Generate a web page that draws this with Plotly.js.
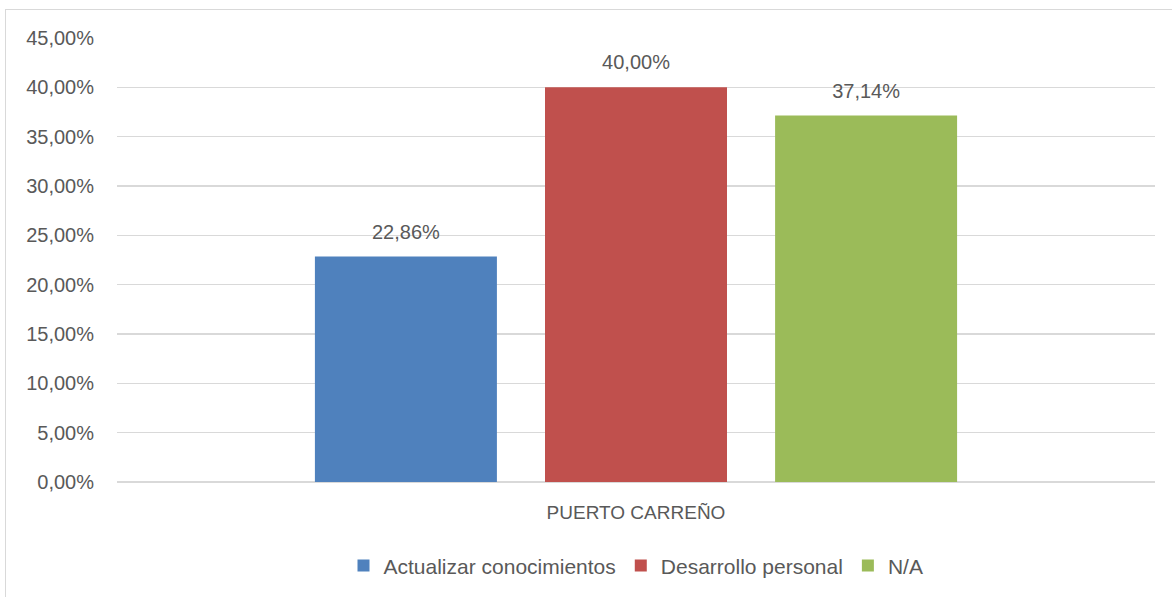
<!DOCTYPE html>
<html>
<head>
<meta charset="utf-8">
<script src="https://cdn.plot.ly/plotly-3.0.1.min.js"></script>
<style>
html,body{margin:0;padding:0;background:#fff;}
#wrap{position:relative;width:1172px;height:597px;}
#chart{position:absolute;left:0;top:0;width:1172px;height:597px;}
#frame{position:absolute;left:5px;top:9px;width:1180px;height:600px;border:1px solid #d9d9d9;pointer-events:none;}
</style>
</head>
<body>
<div id="wrap"><div id="frame"></div><div id="chart"></div></div>
<script>
const categories = ["PUERTO CARREÑO"];
const seriesNames = ["Actualizar conocimientos", "Desarrollo personal", "N/A"];
const actualizar = [0.2286];
const desarrollo = [0.40];
const na = [0.3714];
const seriesValues = [actualizar, desarrollo, na];
const colors = ["#4f81bd", "#c0504d", "#9bbb59"];
const yTickVals = [0, 0.05, 0.10, 0.15, 0.20, 0.25, 0.30, 0.35, 0.40, 0.45];

const FONT = "Liberation Sans, Arial, sans-serif";
const TXT = "#595959";

const traces = [];
seriesValues.forEach((vals, i) => {
  traces.push({
    type: "bar",
    name: seriesNames[i],
    x: categories,
    y: vals,
    offsetgroup: "g" + i,
    marker: {color: colors[i]},
    hoverinfo: "name+y"
  });
});
seriesValues.forEach((vals, i) => {
  traces.push({
    type: "scatter",
    mode: "markers+text",
    x: categories,
    y: vals,
    offsetgroup: "g" + i,
    showlegend: false,
    hoverinfo: "skip",
    marker: {size: 19, opacity: 0, color: colors[i]},
    texttemplate: "%{y:.2%}",
    textposition: "top center",
    textfont: {family: FONT, size: 20, color: TXT},
    cliponaxis: false
  });
});

const layout = {
  width: 1172,
  height: 597,
  margin: {l: 117, r: 17, t: 38, b: 115},
  paper_bgcolor: "rgba(0,0,0,0)",
  plot_bgcolor: "rgba(0,0,0,0)",
  separators: ",.",
  barmode: "group",
  bargap: 0.335,
  bargroupgap: 0.209,
  scattermode: "group",
  scattergap: 0.335,
  showlegend: true,
  font: {family: FONT, color: TXT},
  xaxis: {
    type: "category",
    automargin: false,
    showgrid: false,
    showline: false,
    zeroline: false,
    ticks: "",
    tickfont: {family: FONT, size: 19, color: TXT},
    ticklabelstandoff: 17
  },
  yaxis: {
    range: [0, 0.45],
    automargin: false,
    tickvals: yTickVals,
    tickformat: ".2%",
    showgrid: true,
    gridcolor: "#d9d9d9",
    gridwidth: 1.5,
    zeroline: true,
    zerolinecolor: "#d9d9d9",
    zerolinewidth: 1.5,
    showline: false,
    ticks: "",
    tickfont: {family: FONT, size: 20, color: TXT},
    ticklabelstandoff: 22
  },
  legend: {
    orientation: "h",
    xref: "paper",
    x: 0.5,
    xanchor: "center",
    yref: "container",
    y: 0.052,
    yanchor: "middle",
    font: {family: FONT, size: 21, color: TXT},
    traceorder: "normal"
  }
};

Plotly.newPlot("chart", traces, layout, {displayModeBar: false, staticPlot: true});
</script>
</body>
</html>
